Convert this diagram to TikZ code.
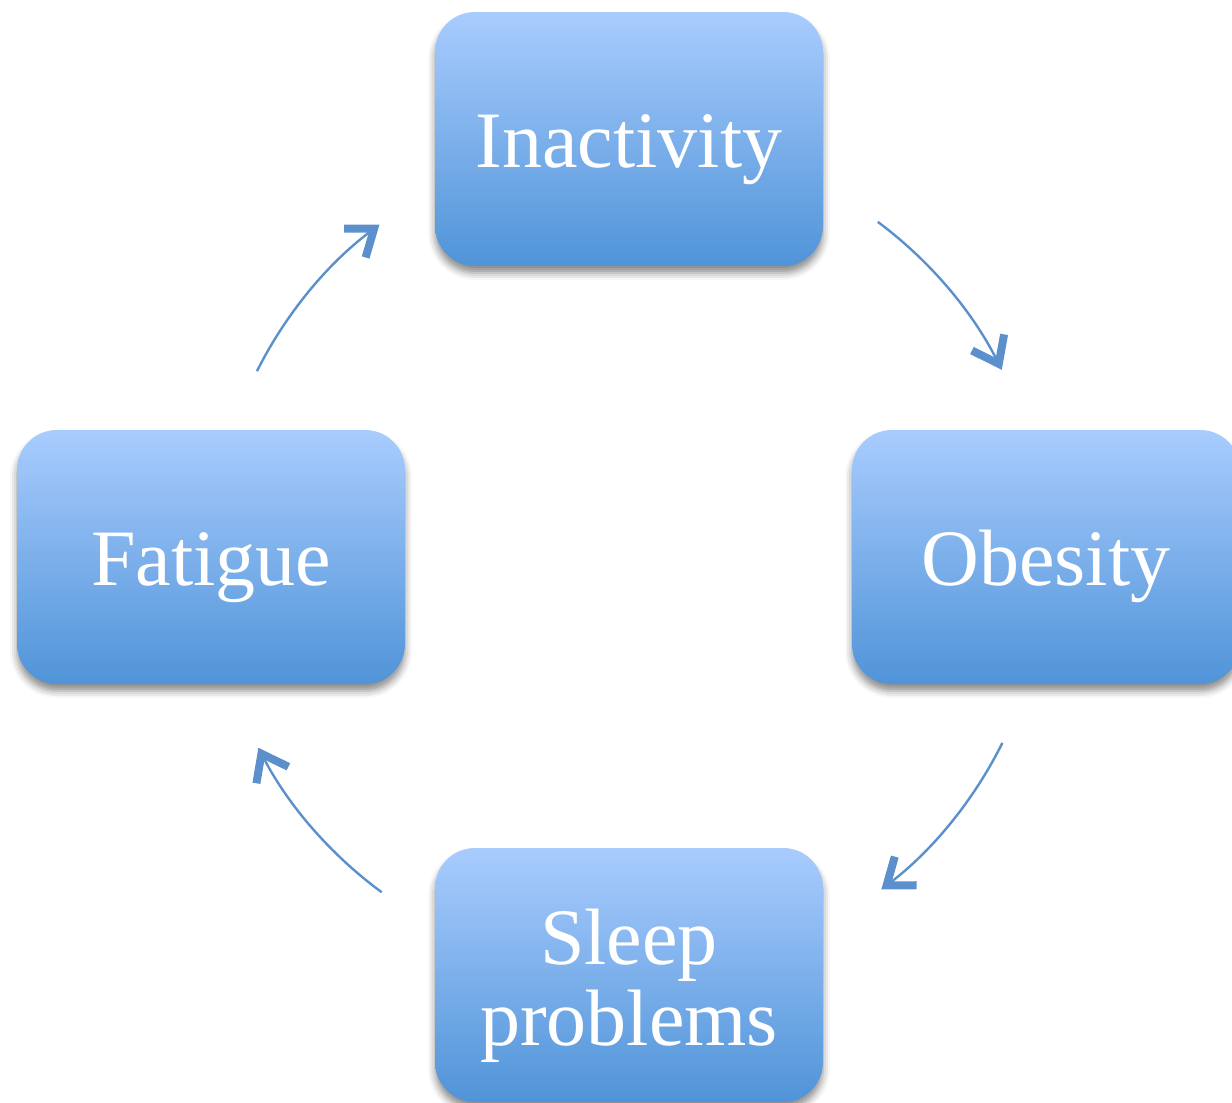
\documentclass[tikz,border=0pt]{standalone}
\usepackage{fontspec}
\setmainfont{Liberation Serif}
\usetikzlibrary{arrows.meta,shadows.blur}
\definecolor{boxtop}{HTML}{A9CCFE}
\definecolor{boxbot}{HTML}{5094D8}
\definecolor{arrowblue}{HTML}{5B90CC}
\tikzset{
  cyclebox/.style={rounded corners=40pt, minimum width=388pt, minimum height=254pt,
    top color=boxtop, bottom color=boxbot, text=white, align=center,
    font=\fontsize{80}{81}\selectfont, inner sep=0pt,
    text height=56pt, text depth=0pt,
    blur shadow={shadow xshift=0pt, shadow yshift=-7pt, shadow blur radius=7pt, shadow opacity=45}},
  cyclearrow/.style={draw=arrowblue, line width=2.4pt,
    -{Straight Barb[length=24pt,width=36pt,line width=8pt]}}
}
\begin{document}
\begin{tikzpicture}[x=1pt,y=-1pt]
\useasboundingbox (0,0) rectangle (1232,1103);
\clip (0,0) rectangle (1232,1103);
\coordinate (c) at (628,557);
\node[cyclebox] (inact) at (629,139) {Inactivity};
\node[cyclebox] (obes) at (1046,557) {Obesity};
\node[cyclebox] (fat) at (211,557) {Fatigue};
\node[cyclebox, text height=140pt] (sleep) at (629,975) {Sleep\\problems};
\draw[cyclearrow] (c) ++(-53.3:418) arc[start angle=-53.3, end angle=-26.6, radius=418];
\draw[cyclearrow] (c) ++(26.4:418) arc[start angle=26.4, end angle=52.7, radius=418];
\draw[cyclearrow] (c) ++(126.3:416) arc[start angle=126.3, end angle=152.7, radius=416];
\draw[cyclearrow] (c) ++(206.6:415) arc[start angle=206.6, end angle=233.2, radius=415];
\end{tikzpicture}
\end{document}
